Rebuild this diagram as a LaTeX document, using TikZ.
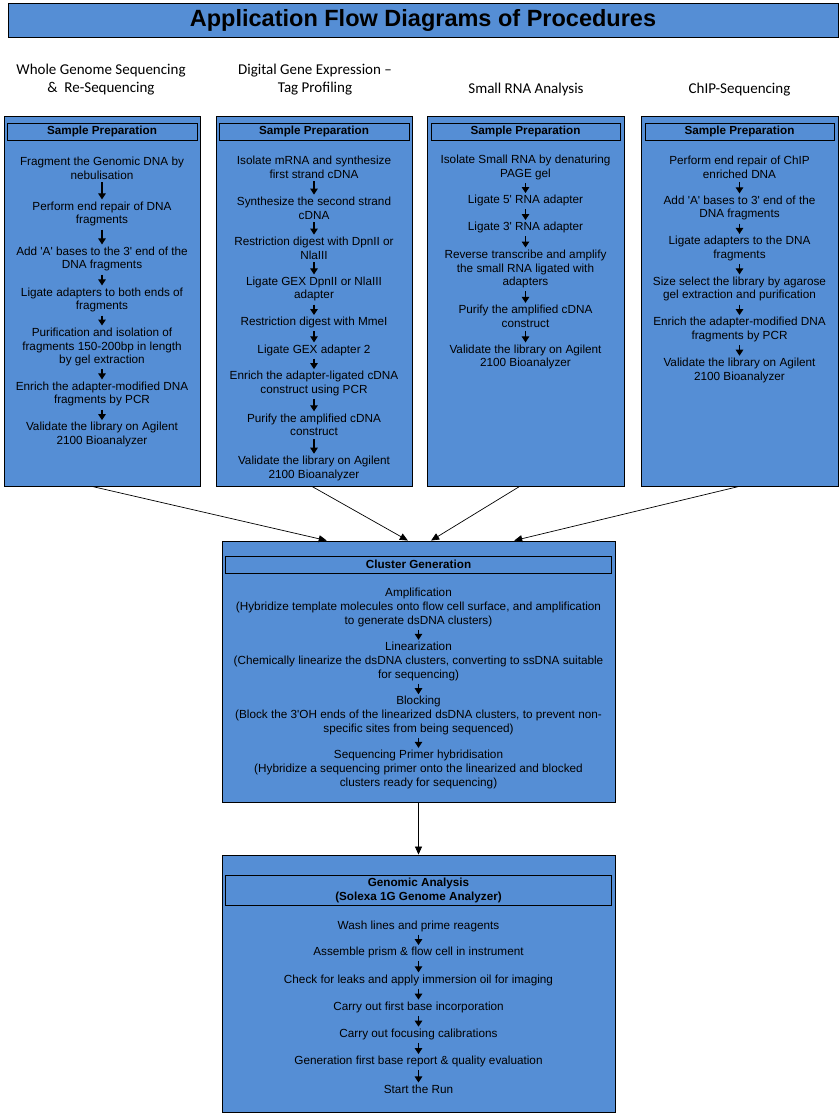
\documentclass[tikz,border=0pt]{standalone}
\usepackage{fontspec}
\newfontfamily\arialfont{Liberation Sans}
\newfontfamily\calibrifont{Carlito}
\usetikzlibrary{arrows.meta}
\usetikzlibrary{positioning}
\usetikzlibrary{calc}
\definecolor{boxblue}{RGB}{85,142,213}

\tikzset{
  outerbox/.style={draw=black, line width=0.9pt, fill=boxblue, inner sep=0pt},
  headbox/.style={draw=black, line width=0.9pt, fill=boxblue, inner sep=0pt, align=center, font=\arialfont\bfseries\fontsize{11.7}{14}\selectfont},
  stepnode/.style={inner sep=1pt, align=center, font=\arialfont\fontsize{11.75}{13.8}\selectfont},
  colhead/.style={align=center, font=\calibrifont\fontsize{15}{18}\selectfont},
  steparrow/.style={line width=1.1pt, -{Triangle[length=6pt,width=7.5pt]}, shorten <=2pt, shorten >=1pt},
  flowarrow/.style={line width=0.7pt, -{Triangle[length=8pt,width=7pt]}}
}

\begin{document}
\begin{tikzpicture}[x=1pt, y=-1pt]
  \useasboundingbox (0,0) rectangle (840,1114);

  \node[outerbox, minimum width=830pt, minimum height=34pt, font=\arialfont\bfseries\fontsize{23.5}{28}\selectfont] (title) at (423,20) {Application Flow Diagrams of Procedures};

  \node[colhead] (wgsT) at (101,79.3) {Whole Genome Sequencing\\\&\ \ Re-Sequencing};
  \node[colhead] (dgeT) at (315,79.3) {Digital Gene Expression –\\Tag Profiling};
  \node[colhead] (srnaT) at (526,89.3) {Small RNA Analysis};
  \node[colhead] (chipT) at (739.5,89.3) {ChIP-Sequencing};

  \node[outerbox, minimum width=196pt, minimum height=370pt] (wgs) at (102,301) {};
  \node[outerbox, minimum width=196pt, minimum height=370pt] (dge) at (314,301) {};
  \node[outerbox, minimum width=197pt, minimum height=370pt] (srna) at (525.5,301) {};
  \node[outerbox, minimum width=197pt, minimum height=370pt] (chip) at (739.5,301) {};

  \node[headbox, minimum width=190pt, minimum height=17pt, below=7pt of wgs.north] (wgsH) {Sample Preparation};
  \node[headbox, minimum width=190pt, minimum height=17pt, below=7pt of dge.north] (dgeH) {Sample Preparation};
  \node[headbox, minimum width=189pt, minimum height=17pt, below=7pt of srna.north] (srnaH) {Sample Preparation};
  \node[headbox, minimum width=189pt, minimum height=17pt, below=7pt of chip.north] (chipH) {Sample Preparation};

  \node[stepnode] (w1) at (102,168) {Fragment the Genomic DNA by\\nebulisation};
  \node[stepnode] (w2) at (102,214) {Perform end repair of DNA\\fragments};
  \node[stepnode] (w3) at (102,259) {Add 'A' bases to the 3' end of the\\DNA fragments};
  \node[stepnode] (w4) at (102,300) {Ligate adapters to both ends of\\fragments};
  \node[stepnode] (w5) at (102,347) {Purification and isolation of\\fragments 150-200bp in length\\by gel extraction};
  \node[stepnode] (w6) at (102,394) {Enrich the adapter-modified DNA\\fragments by PCR};
  \node[stepnode] (w7) at (102,434.7) {Validate the library on Agilent\\2100 Bioanalyzer};

  \node[stepnode] (d1) at (314,167) {Isolate mRNA and synthesize\\first strand cDNA};
  \node[stepnode] (d2) at (314,208) {Synthesize the second strand\\cDNA};
  \node[stepnode] (d3) at (314,248) {Restriction digest with DpnII or\\NlaIII};
  \node[stepnode] (d4) at (314,289) {Ligate GEX DpnII or NlaIII\\adapter};
  \node[stepnode] (d5) at (314,322.7) {Restriction digest with MmeI};
  \node[stepnode] (d6) at (314,350) {Ligate GEX adapter 2};
  \node[stepnode] (d7) at (314,383.7) {Enrich the adapter-ligated cDNA\\construct using PCR};
  \node[stepnode] (d8) at (314,424.7) {Purify the amplified cDNA\\construct};
  \node[stepnode] (d9) at (314,468.3) {Validate the library on Agilent\\2100 Bioanalyzer};

  \node[stepnode] (s1) at (525.5,167.5) {Isolate Small RNA by denaturing\\PAGE gel};
  \node[stepnode] (s2) at (525.5,200.7) {Ligate 5' RNA adapter};
  \node[stepnode] (s3) at (525.5,227.7) {Ligate 3' RNA adapter};
  \node[stepnode] (s4) at (525.5,269) {Reverse transcribe and amplify\\the small RNA ligated with\\adapters};
  \node[stepnode] (s5) at (525.5,316.3) {Purify the amplified cDNA\\construct};
  \node[stepnode] (s6) at (525.5,357) {Validate the library on Agilent\\2100 Bioanalyzer};

  \node[stepnode] (c1) at (739.5,167.5) {Perform end repair of ChIP\\enriched DNA};
  \node[stepnode] (c2) at (739.5,208) {Add 'A' bases to 3' end of the\\DNA fragments};
  \node[stepnode] (c3) at (739.5,248.5) {Ligate adapters to the DNA\\fragments};
  \node[stepnode] (c4) at (739.5,289) {Size select the library by agarose\\gel extraction and purification};
  \node[stepnode] (c5) at (739.5,329.7) {Enrich the adapter-modified DNA\\fragments by PCR};
  \node[stepnode] (c6) at (739.5,370.3) {Validate the library on Agilent\\2100 Bioanalyzer};

  \node[outerbox, minimum width=393pt, minimum height=261pt] (clus) at (418.5,671.5) {};
  \node[headbox, minimum width=386pt, minimum height=17pt, below=15pt of clus.north] (clusH) {Cluster Generation};

  \node[stepnode] (g1) at (418.5,607.3) {Amplification\\(Hybridize template molecules onto flow cell surface, and amplification\\to generate dsDNA clusters)};
  \node[stepnode] (g2) at (418.5,661.3) {Linearization\\(Chemically linearize the dsDNA clusters, converting to ssDNA suitable\\for sequencing)};
  \node[stepnode] (g3) at (418.5,715.7) {Blocking\\(Block the 3'OH ends of the linearized dsDNA clusters, to prevent non-\\specific sites from being sequenced)};
  \node[stepnode] (g4) at (418.5,769.3) {Sequencing Primer hybridisation\\(Hybridize a sequencing primer onto the linearized and blocked\\clusters ready for sequencing)};

  \node[outerbox, minimum width=393pt, minimum height=257pt] (gana) at (418.5,983.5) {};
  \node[headbox, minimum width=386pt, minimum height=30pt, below=20pt of gana.north] (ganaH) {Genomic Analysis\\(Solexa 1G Genome Analyzer)};

  \node[stepnode] (a1) at (418.5,926) {Wash lines and prime reagents};
  \node[stepnode] (a2) at (418.5,952.7) {Assemble prism \& flow cell in instrument};
  \node[stepnode] (a3) at (418.5,980) {Check for leaks and apply immersion oil for imaging};
  \node[stepnode] (a4) at (418.5,1007.3) {Carry out first base incorporation};
  \node[stepnode] (a5) at (418.5,1034.3) {Carry out focusing calibrations};
  \node[stepnode] (a6) at (418.5,1061.7) {Generation first base report \& quality evaluation};
  \node[stepnode] (a7) at (418.5,1089) {Start the Run};

  \draw[steparrow] (w1) -- (w2);
  \draw[steparrow] (w2) -- (w3);
  \draw[steparrow] (w3) -- (w4);
  \draw[steparrow] (w4) -- (w5);
  \draw[steparrow] (w5) -- (w6);
  \draw[steparrow] (w6) -- (w7);

  \draw[steparrow] (d1) -- (d2);
  \draw[steparrow] (d2) -- (d3);
  \draw[steparrow] (d3) -- (d4);
  \draw[steparrow] (d4) -- (d5);
  \draw[steparrow] (d5) -- (d6);
  \draw[steparrow] (d6) -- (d7);
  \draw[steparrow] (d7) -- (d8);
  \draw[steparrow] (d8) -- (d9);

  \draw[steparrow] (s1) -- (s2);
  \draw[steparrow] (s2) -- (s3);
  \draw[steparrow] (s3) -- (s4);
  \draw[steparrow] (s4) -- (s5);
  \draw[steparrow] (s5) -- (s6);

  \draw[steparrow] (c1) -- (c2);
  \draw[steparrow] (c2) -- (c3);
  \draw[steparrow] (c3) -- (c4);
  \draw[steparrow] (c4) -- (c5);
  \draw[steparrow] (c5) -- (c6);

  \draw[steparrow] (g1) -- (g2);
  \draw[steparrow] (g2) -- (g3);
  \draw[steparrow] (g3) -- (g4);

  \draw[steparrow] (a1) -- (a2);
  \draw[steparrow] (a2) -- (a3);
  \draw[steparrow] (a3) -- (a4);
  \draw[steparrow] (a4) -- (a5);
  \draw[steparrow] (a5) -- (a6);
  \draw[steparrow] (a6) -- (a7);

  \draw[flowarrow] ($(wgs.south west)!0.45!(wgs.south east)$) -- ($(clus.north west)!0.267!(clus.north east)$);
  \draw[flowarrow] ($(dge.south west)!0.49!(dge.south east)$) -- ($(clus.north west)!0.473!(clus.north east)$);
  \draw[flowarrow] ($(srna.south west)!0.47!(srna.south east)$) -- ($(clus.north west)!0.532!(clus.north east)$);
  \draw[flowarrow] ($(chip.south west)!0.497!(chip.south east)$) -- ($(clus.north west)!0.743!(clus.north east)$);
  \draw[flowarrow] (clus) -- (gana);
\end{tikzpicture}
\end{document}
